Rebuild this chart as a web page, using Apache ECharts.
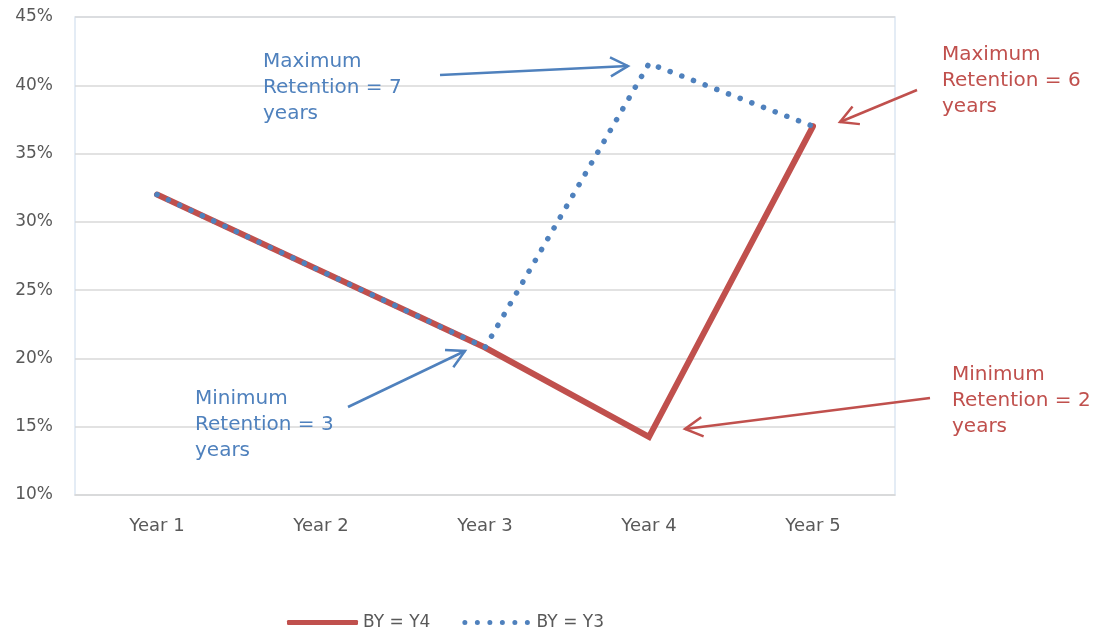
<!DOCTYPE html>
<html>
<head>
<meta charset="utf-8">
<script src="https://cdn.jsdelivr.net/npm/echarts@6/dist/echarts.min.js"></script>
<style>
  html, body { margin: 0; padding: 0; background: #ffffff; }
  #chart { width: 1104px; height: 632px; }
</style>
</head>
<body>
<div id="chart"></div>
<script>
// Retention rate by year for two base-year scenarios (percent)
const categories = ['Year 1', 'Year 2', 'Year 3', 'Year 4', 'Year 5'];
const seriesNames = ['BY = Y4', 'BY = Y3'];
const retentionY4 = [32.0, 26.4, 20.8, 14.25, 37.0];
const retentionY3 = [32.0, 26.4, 20.8, 41.6, 37.0];

const RED = '#c0504d';
const BLUE = '#4f81bd';
const FONT = 'DejaVu Sans, Verdana, sans-serif';

// Legend glyph for the dotted series: a row of six round dots
const DOTS_ICON = 'path://' + [0, 1, 2, 3, 4, 5].map(function (i) {
  const cx = 2.5 + 12.5 * i;
  return 'M' + (cx - 2.5) + ' 2.5a2.5 2.5 0 1 0 5 0a2.5 2.5 0 1 0 -5 0z';
}).join('');

const chart = echarts.init(document.getElementById('chart'), null, { renderer: 'canvas' });

// Straight arrow with an open "V" head at the tip
function arrow(x1, y1, x2, y2, color) {
  const ang = Math.atan2(y2 - y1, x2 - x1);
  const len = 20, spread = 0.5;
  const a1 = [x2 - len * Math.cos(ang - spread), y2 - len * Math.sin(ang - spread)];
  const a2 = [x2 - len * Math.cos(ang + spread), y2 - len * Math.sin(ang + spread)];
  return [
    { type: 'line', z: 100, shape: { x1, y1, x2, y2 }, style: { stroke: color, lineWidth: 2.5 } },
    { type: 'polyline', z: 100, shape: { points: [a1, [x2, y2], a2] },
      style: { stroke: color, lineWidth: 2.5, fill: null, lineJoin: 'miter' } }
  ];
}

function note(x, y, text, color) {
  return {
    type: 'text', z: 100, left: x, top: y,
    style: { text, fill: color, font: '20px ' + FONT, lineHeight: 26 }
  };
}

const option = {
  backgroundColor: '#ffffff',
  animation: false,
  grid: {
    left: 75, right: 209, top: 17, bottom: 137,
    show: true, borderColor: '#dce6f2', borderWidth: 1.5
  },
  legend: {
    left: 282, top: 609,
    itemWidth: 71, itemHeight: 5, itemGap: 32,
    textStyle: { fontFamily: FONT, fontSize: 17, color: '#595959' },
    data: [
      { name: seriesNames[0], icon: 'roundRect' },
      { name: seriesNames[1], icon: DOTS_ICON }
    ]
  },
  xAxis: {
    type: 'category',
    data: categories,
    boundaryGap: true,
    axisLine: { show: true, lineStyle: { color: '#d9d9d9', width: 1.5 } },
    axisTick: { show: false },
    axisLabel: { fontFamily: FONT, fontSize: 18, color: '#595959', margin: 22 }
  },
  yAxis: {
    type: 'value',
    min: 10, max: 45, interval: 5,
    axisLine: { show: false },
    axisTick: { show: false },
    splitLine: { lineStyle: { color: '#d9d9d9', width: 1.5 } },
    axisLabel: { fontFamily: FONT, fontSize: 17, color: '#595959', margin: 22, formatter: '{value}%' }
  },
  series: [
    {
      name: seriesNames[0], type: 'line', data: retentionY4,
      symbol: 'none', smooth: false,
      lineStyle: { color: RED, width: 6, cap: 'round', join: 'miter' },
      itemStyle: { color: RED }
    },
    {
      name: seriesNames[1], type: 'line', data: retentionY3,
      symbol: 'none', smooth: false,
      lineStyle: { color: BLUE, width: 5.5, type: [0.1, 12.4], cap: 'round' },
      itemStyle: { color: BLUE }
    }
  ],
  graphic: [
    note(263, 49, 'Maximum\nRetention = 7\nyears', BLUE),
    note(195, 386, 'Minimum\nRetention = 3\nyears', BLUE),
    note(942, 42, 'Maximum\nRetention = 6\nyears', RED),
    note(952, 362, 'Minimum\nRetention = 2\nyears', RED),
    ...arrow(440, 75, 628, 66, BLUE),
    ...arrow(348, 407, 465, 351, BLUE),
    ...arrow(917, 90, 840, 122, RED),
    ...arrow(930, 398, 685, 429, RED)
  ]
};

chart.setOption(option);
</script>
</body>
</html>
